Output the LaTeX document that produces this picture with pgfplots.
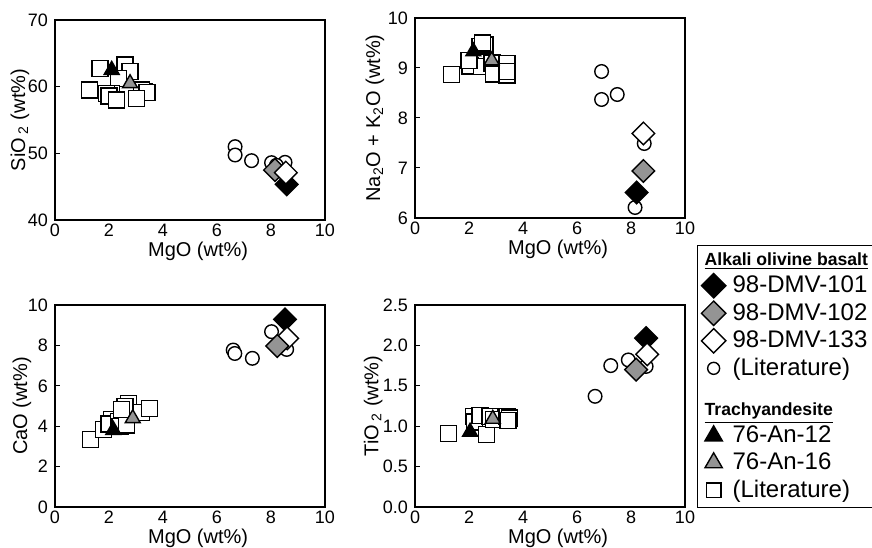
\documentclass[border=0pt]{standalone}
\usepackage{fontspec}
\setmainfont{Liberation Sans}
\usepackage{pgfplots}
\pgfplotsset{compat=1.18}

\definecolor{mgray}{gray}{0.58}

\pgfplotsset{
  panel/.style={
    scale only axis, width=135pt, anchor=south west,
    xmin=0, xmax=10, xtick={0,2,...,10},
    axis line style={line width=0.6pt}, tick style={black, line width=0.5pt},
    tick align=inside, xtick style={draw=none},
    ytick pos=left, major tick length=2.5pt,
    /pgf/number format/assume math mode=true,
    tick label style={font=\fontsize{9}{10}\selectfont},
    xticklabel style={yshift=1.5pt},
    label style={font=\fontsize{10.5}{12}\selectfont},
    xlabel={MgO (wt\%)},
    every axis x label/.style={at={(axis description cs:0.53,-0.155)}, anchor=center},
    clip=false,
  },
  mk/.style={only marks, line width=0.7pt},
  bdia/.style={mk, mark=square*, mark size=4pt, mark options={rotate=45, draw=black, fill=black}},
  gdia/.style={mk, mark=square*, mark size=4pt, mark options={rotate=45, draw=black, fill=mgray}},
  wdia/.style={mk, mark=square*, mark size=4pt, mark options={rotate=45, draw=black, fill=white}},
  lcir/.style={mk, mark=*, mark size=3.4pt, mark options={draw=black, fill=white}},
  btri/.style={mk, mark=triangle*, mark size=4.3pt, mark options={draw=black, fill=black}},
  gtri/.style={mk, mark=triangle*, mark size=4.3pt, mark options={draw=black, fill=mgray}},
  lsq/.style={mk, mark=square*, mark size=4pt, mark options={draw=black, fill=white}},
}

\begin{document}
\begin{tikzpicture}
\useasboundingbox (0,0) rectangle (436pt,273.5pt);

% SiO2
\begin{axis}[panel, at={(27.5pt,163.5pt)}, height=100pt,
  ymin=40, ymax=70, ytick={40,50,60,70},
  ylabel={SiO\,\textsubscript{2} (wt\%)},
  every axis y label/.style={at={(axis description cs:-0.13,0.5)}, rotate=90, anchor=center}]
\addplot[lcir] coordinates {(6.67,51)(6.67,49.75)(7.28,48.9)(8.02,48.6)(8.52,48.65)(8.2,48.2)};
\addplot[lsq] coordinates {(1.67,62.75)(1.27,59.5)(2.59,63.25)(2.78,62.25)(2.35,61.25)(2.1,59)(3.3,59.3)(3.2,59.5)(3.4,59.1)(1.9,59)(2.0,58.6)(3.02,58.25)(2.28,58)};
\addplot[bdia] coordinates {(8.58,45.35)};
\addplot[gdia] coordinates {(8.15,47.5)};
\addplot[wdia] coordinates {(8.55,47.1)};
\addplot[btri] coordinates {(2.1,62.5)};
\addplot[gtri] coordinates {(2.78,60.5)};
\end{axis}

% Na2O + K2O
\begin{axis}[panel, at={(207.5pt,164.5pt)}, height=100pt,
  ymin=6, ymax=10, ytick={6,7,8,9,10},
  ylabel={Na\textsubscript{2}O + K\textsubscript{2}O (wt\%)},
  every axis y label/.style={at={(axis description cs:-0.148,0.5)}, rotate=90, anchor=center}]
\addplot[lcir] coordinates {(6.91,8.93)(6.91,8.37)(7.49,8.47)(8.49,7.49)(8.15,6.21)};
\addplot[lsq] coordinates {(1.36,8.87)(2.04,9.04)(2.47,9.03)(2.0,9.15)(2.85,9.1)(2.9,8.88)(3.4,9.09)(3.4,8.86)(3.4,8.93)(2.4,9.43)(2.59,9.46)(2.5,9.5)};
\addplot[bdia] coordinates {(8.21,6.51)};
\addplot[gdia] coordinates {(8.46,6.94)};
\addplot[wdia] coordinates {(8.46,7.69)};
\addplot[btri] coordinates {(2.16,9.33)};
\addplot[gtri] coordinates {(2.84,9.15)};
\end{axis}

% CaO
\begin{axis}[panel, at={(27.5pt,20pt)}, height=101pt,
  ymin=0, ymax=10, ytick={0,2,...,10},
  ylabel={CaO (wt\%)},
  every axis y label/.style={at={(axis description cs:-0.122,0.5)}, rotate=90, anchor=center}]
\addplot[lcir] coordinates {(6.6,7.77)(6.66,7.6)(7.31,7.36)(8.02,8.68)(8.58,7.8)};
\addplot[lsq] coordinates {(1.32,3.35)(1.79,3.85)(2.1,4.34)(2.0,4.1)(2.35,4.22)(2.4,4.0)(2.65,4.06)(2.72,5.13)(2.59,4.97)(2.47,4.84)(3.2,4.67)(3.49,4.88)};
\addplot[bdia] coordinates {(8.52,9.29)};
\addplot[wdia] coordinates {(8.6,8.35)};
\addplot[gdia] coordinates {(8.23,7.97)};
\addplot[btri] coordinates {(2.16,3.81)};
\addplot[gtri] coordinates {(2.88,4.39)};
\end{axis}

% TiO2 + legend
\begin{axis}[panel, at={(207.5pt,20pt)}, height=101pt,
  ymin=0, ymax=2.5, ytick={0,0.5,...,2.5},
  yticklabel style={/pgf/number format/.cd, fixed, fixed zerofill, precision=1},
  ylabel={TiO\,\textsubscript{2} (wt\%)},
  every axis y label/.style={at={(axis description cs:-0.155,0.5)}, rotate=90, anchor=center},
  legend style={at={(axis description cs:1.044,1.297)}, anchor=north west,
    draw=black, line width=0.6pt, font=\fontsize{12}{13.5}\selectfont,
    inner xsep=2pt, inner ysep=2.5pt, row sep=1.6pt,
    nodes={inner sep=1pt}},
  legend cell align=left,
  legend image code/.code={\path[draw=none, fill=none] (0pt,0pt) rectangle (14.5pt,0pt);
    \draw[#1] plot coordinates {(6pt,0pt)};}]
\addplot[lcir, forget plot] coordinates {(6.67,1.37)(7.25,1.75)(7.9,1.82)(8.56,1.74)};
\addplot[lsq, forget plot] coordinates {(1.23,0.91)(2.16,1.12)(2.2,1.05)(2.4,1.13)(2.65,0.90)(2.78,1.12)(2.9,1.08)(3.4,1.12)(3.5,1.1)(3.45,1.07)};
\addplot[bdia, forget plot] coordinates {(8.56,2.09)};
\addplot[wdia, forget plot] coordinates {(8.6,1.89)};
\addplot[gdia, forget plot] coordinates {(8.19,1.70)};
\addplot[btri, forget plot] coordinates {(2.04,0.93)};
\addplot[gtri, forget plot] coordinates {(2.88,1.09)};

\addlegendimage{empty legend}
\addlegendentry{\hspace*{-14pt}\fontsize{8.8}{10}\selectfont\bfseries\underline{Alkali olivine basalt}}
\addlegendimage{bdia, mark size=4.3pt}\addlegendentry{98-DMV-101}
\addlegendimage{gdia, mark size=4.3pt}\addlegendentry{98-DMV-102}
\addlegendimage{wdia, mark size=4.3pt}\addlegendentry{98-DMV-133}
\addlegendimage{lcir, mark size=3pt}\addlegendentry{(Literature)}
\addlegendimage{empty legend}
\addlegendentry{\hspace*{-14pt}\rule{0pt}{15pt}\fontsize{8.8}{10}\selectfont\bfseries\underline{Trachyandesite}}
\addlegendimage{btri, mark size=5pt}\addlegendentry{76-An-12}
\addlegendimage{gtri, mark size=5pt}\addlegendentry{76-An-16}
\addlegendimage{lsq, mark size=3.6pt}\addlegendentry{(Literature)}
\end{axis}
\end{tikzpicture}
\end{document}
